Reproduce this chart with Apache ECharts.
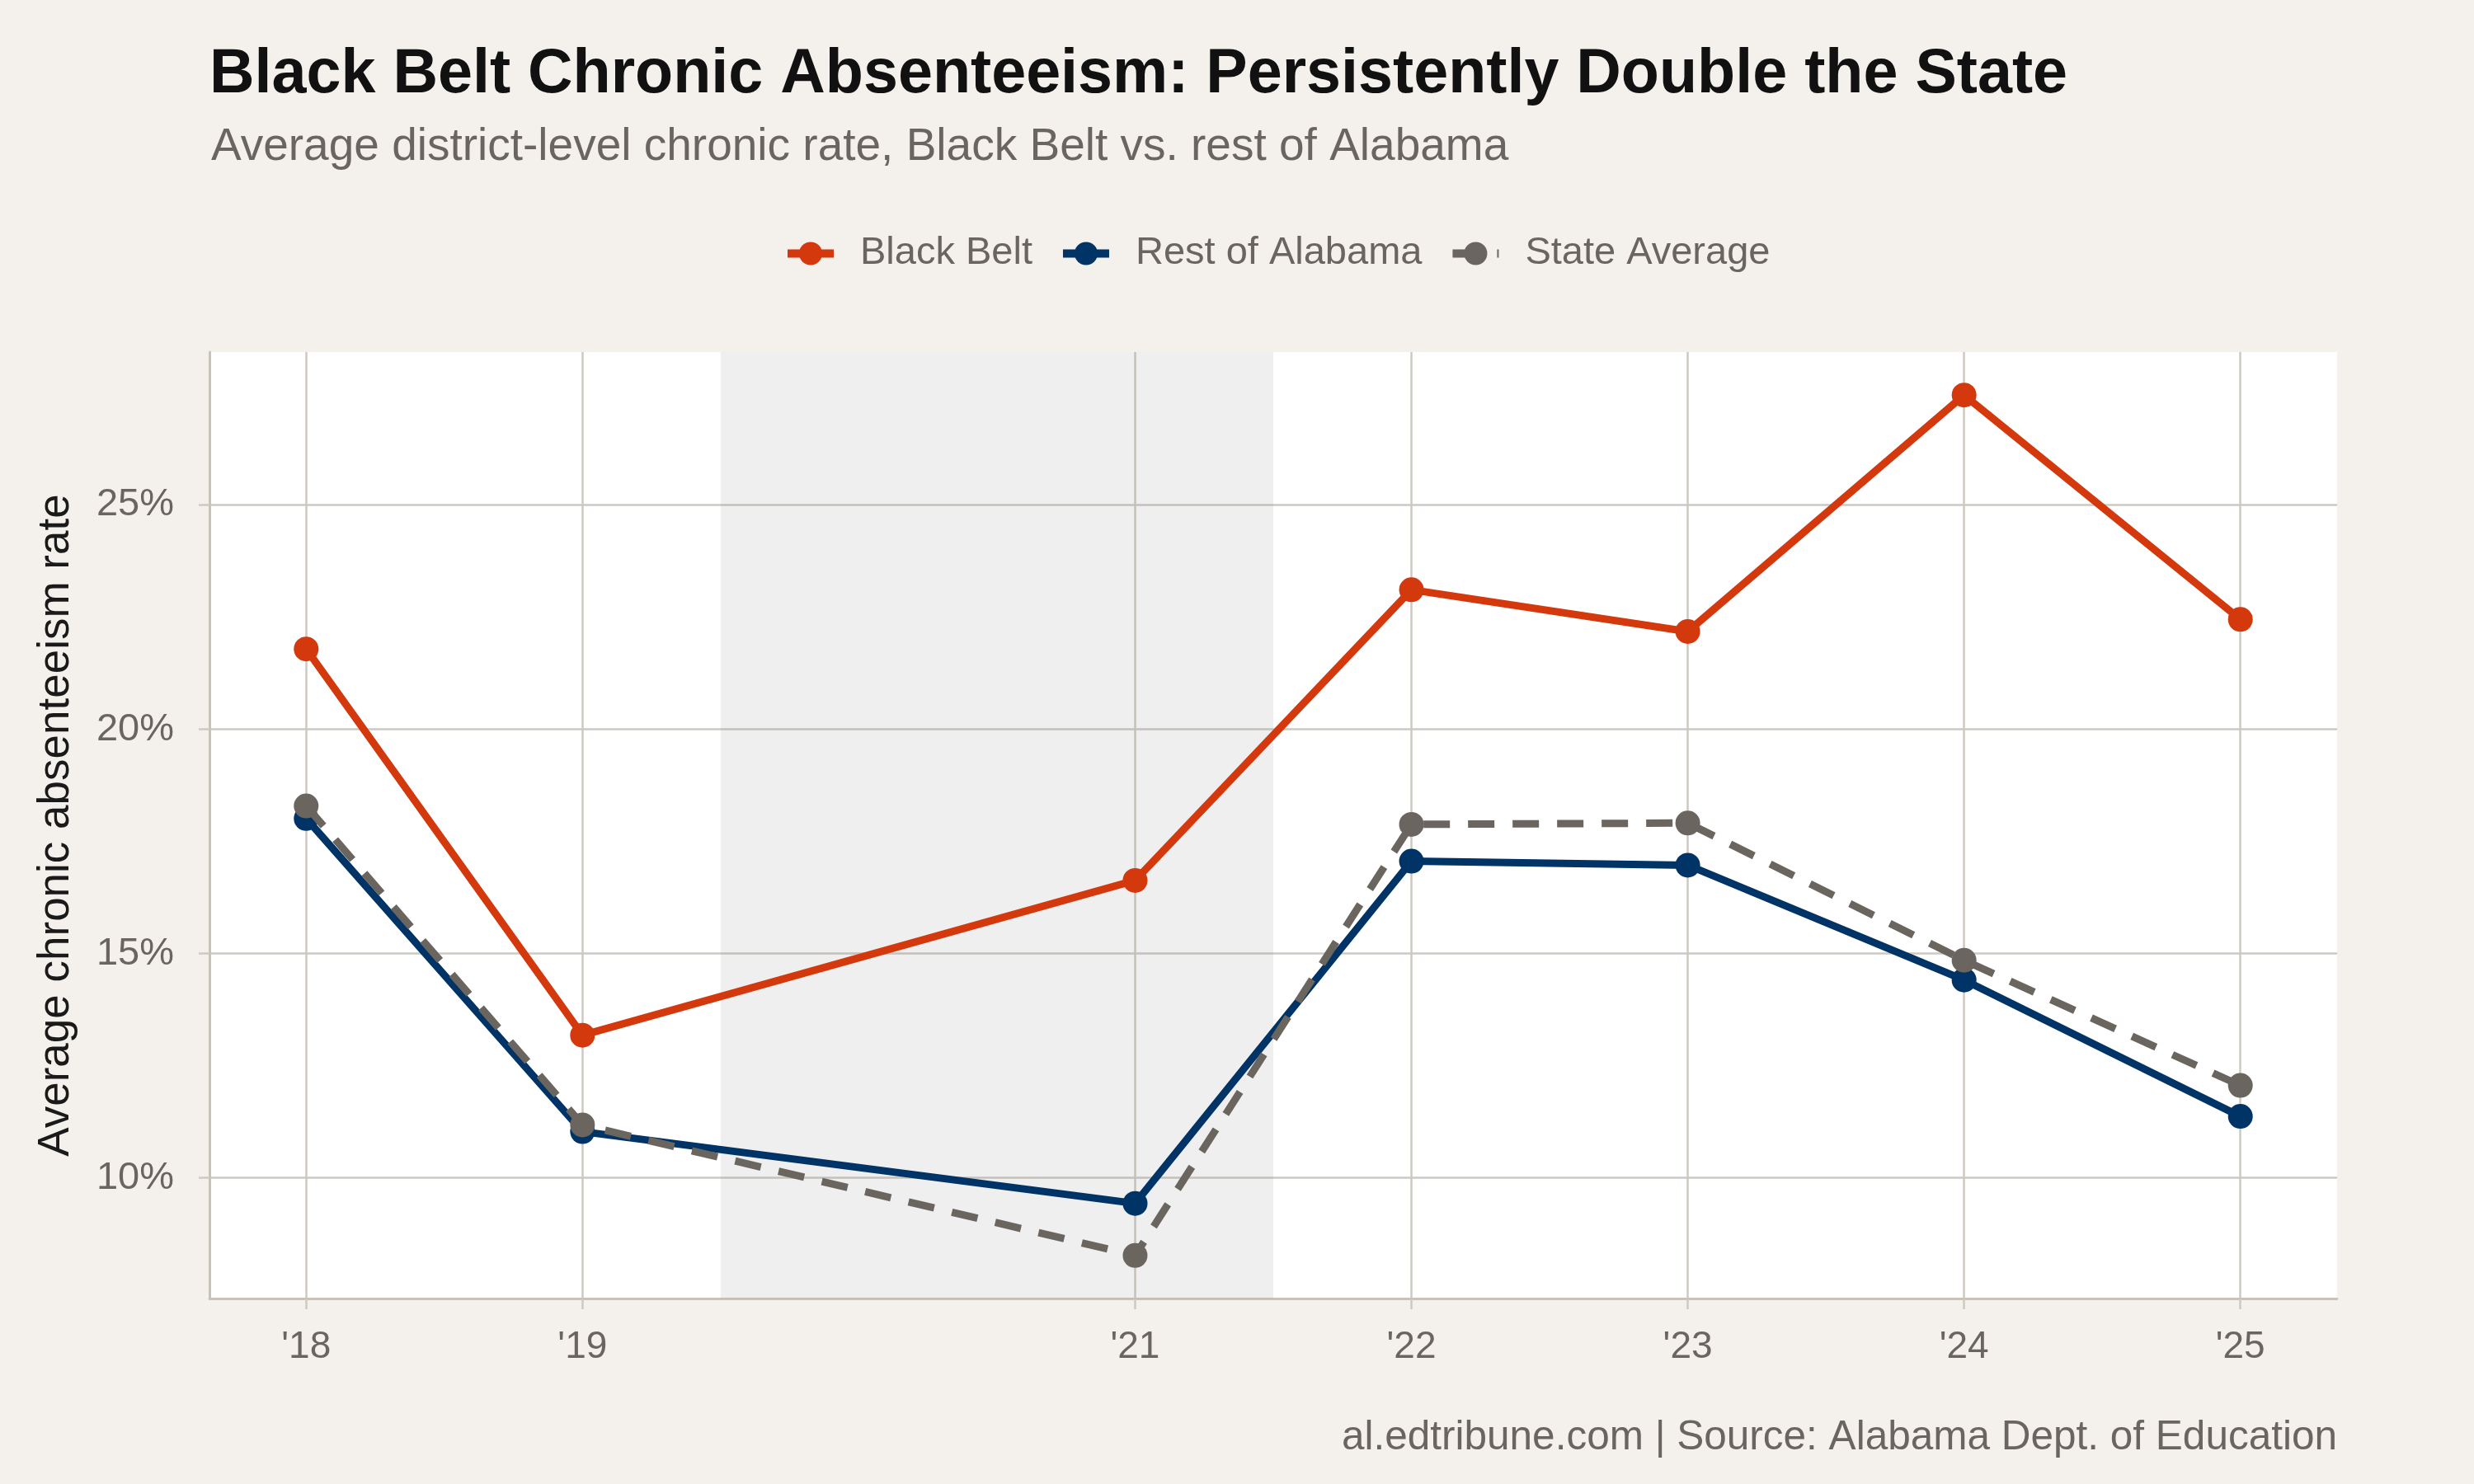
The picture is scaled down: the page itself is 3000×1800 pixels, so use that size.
<!DOCTYPE html>
<html><head><meta charset="utf-8">
<script src="https://cdn.jsdelivr.net/npm/echarts@6/dist/echarts.min.js"></script>
<style>html,body{margin:0;padding:0;background:#F4F1EC}#chart{width:3000px;height:1800px}</style>
</head><body><div id="chart"></div>
<script>
const years = [2018, 2019, 2021, 2022, 2023, 2024, 2025];
const blackBelt = [21.79, 13.18, 16.63, 23.11, 22.18, 27.45, 22.45];
const restOfAlabama = [18.01, 11.03, 9.43, 17.06, 16.97, 14.41, 11.37];
const stateAverage = [18.29, 11.18, 8.27, 17.88, 17.91, 14.85, 12.06];
const yTicks = [10, 15, 20, 25];
const shadeRange = [2019.5, 2021.5];
const seriesNames = ['Black Belt', 'Rest of Alabama', 'State Average'];
const colors = ['#D4380D', '#003366', '#6B6560'];

const FONT = '"Liberation Sans", Arial, Helvetica, sans-serif';
const chart = echarts.init(document.getElementById('chart'), null, {renderer: 'canvas'});
const pairs = arr => years.map((y, i) => [y, arr[i]]);

const gridColor = '#CEC9C0';
const axisColor = '#C9C2B8';

function lineSeries(name, arr, color, dashed, z) {
  return {
    name: name,
    type: 'line',
    data: pairs(arr),
    z: z,
    symbol: 'circle',
    symbolSize: 30,
    showSymbol: true,
    itemStyle: {color: color, borderWidth: 0},
    lineStyle: {color: color, width: 9, type: dashed ? [32, 22] : 'solid', cap: 'butt'},
    emphasis: {disabled: true},
    animation: false
  };
}

const s0 = lineSeries(seriesNames[0], blackBelt, colors[0], false, 3);
s0.markArea = {
  silent: true,
  itemStyle: {color: 'rgba(150,150,150,0.15)'},
  data: [[{xAxis: shadeRange[0]}, {xAxis: shadeRange[1]}]]
};

const option = {
  backgroundColor: '#F4F1EC',
  animation: false,
  title: [
    {text: 'Black Belt Chronic Absenteeism: Persistently Double the State', left: 249, top: 48,
     textStyle: {fontFamily: FONT, fontSize: 75.5, fontWeight: 'bold', color: '#111111'}},
    {text: 'Average district-level chronic rate, Black Belt vs. rest of Alabama', left: 251, top: 146,
     textStyle: {fontFamily: FONT, fontSize: 55, fontWeight: 'normal', color: '#6B6560'}}
  ],
  legend: {
    data: seriesNames,
    left: 950, top: 284,
    itemWidth: 56, itemHeight: 35, itemGap: 32,
    padding: 0,
    lineStyle: {width: 10},
    textStyle: {fontFamily: FONT, fontSize: 47, color: '#6B6560', padding: [0, 0, 0, 27]}
  },
  grid: {
    left: 254, right: 166, top: 427, bottom: 225,
    show: true, backgroundColor: '#FFFFFF', borderWidth: 0,
    containLabel: false, outerBoundsMode: 'none'
  },
  xAxis: {
    type: 'value', min: 2017.65, max: 2025.35,
    axisLine: {show: true, onZero: false, lineStyle: {color: axisColor, width: 3}},
    axisTick: {show: true, length: 13, lineStyle: {color: gridColor, width: 2.5}, customValues: years},
    axisLabel: {customValues: years, margin: 36, fontFamily: FONT, fontSize: 46, color: '#6B6560',
      formatter: v => "'" + String(Math.round(v)).slice(2)},
    splitLine: {show: true, lineStyle: {color: gridColor, width: 2.5}}
  },
  yAxis: {
    type: 'value', min: 7.31, max: 28.41,
    name: 'Average chronic absenteeism rate', nameLocation: 'middle', nameGap: 159,
    nameTextStyle: {fontFamily: FONT, fontSize: 53, color: '#1A1A1A'},
    axisLine: {show: true, onZero: false, lineStyle: {color: axisColor, width: 3}},
    axisTick: {show: true, length: 13, lineStyle: {color: gridColor, width: 2.5}, customValues: yTicks},
    axisLabel: {customValues: yTicks, margin: 43, fontFamily: FONT, fontSize: 47, color: '#6B6560',
      formatter: v => v + '%'},
    splitLine: {show: true, lineStyle: {color: gridColor, width: 2.5}}
  },
  graphic: [
    {type: 'text', right: 166, top: 1719, silent: true,
     style: {text: 'al.edtribune.com | Source: Alabama Dept. of Education', font: '49.5px ' + FONT, fill: '#6B6560'}}
  ],
  series: [
    s0,
    lineSeries(seriesNames[1], restOfAlabama, colors[1], false, 4),
    lineSeries(seriesNames[2], stateAverage, colors[2], true, 5)
  ]
};
chart.setOption(option);
</script>
</body></html>
